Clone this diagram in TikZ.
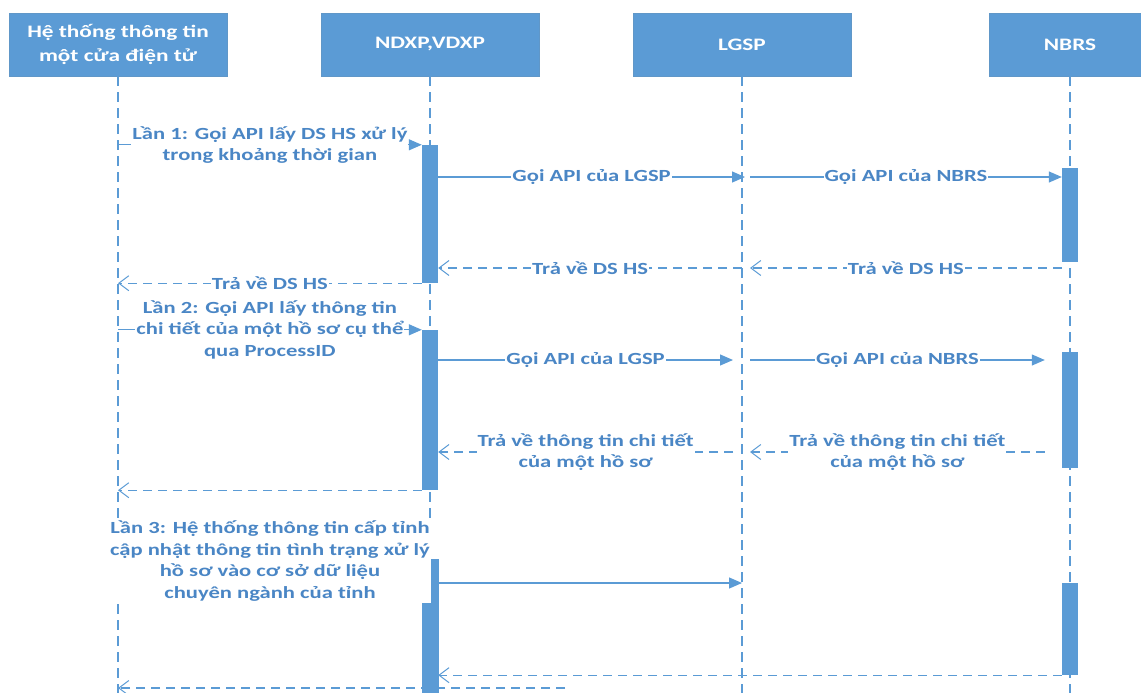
\documentclass[tikz,border=0pt]{standalone}
\usepackage{fontspec}
\setmainfont{Carlito}[FakeStretch=1.33]
\usepackage{tikz}
\usetikzlibrary{positioning, arrows.meta, calc}
\definecolor{boxblue}{HTML}{5B9BD5}
\definecolor{txtblue}{HTML}{4A86C5}

\begin{document}
\begin{tikzpicture}[
    x=1pt, y=-1pt,
    font=\fontsize{17}{21.5}\selectfont\bfseries,
    head/.style={rectangle, fill=boxblue, draw=boxblue!85!gray, text=white, minimum width=218pt, minimum height=63pt, align=center, inner sep=0pt, font=\fontsize{17.5}{24}\selectfont\bfseries},
    life/.style={color=boxblue, line width=1.3pt, dash pattern=on 10pt off 6pt},
    act/.style={rectangle, fill=boxblue, minimum width=16pt, inner sep=0pt},
    call/.style={color=boxblue, line width=1.2pt, -{Triangle[length=13pt, width=11pt]}},
    back/.style={color=boxblue, line width=1.2pt, dash pattern=on 9pt off 6pt, -{Straight Barb[length=10pt, width=15pt, line width=1pt]}},
    lbl/.style={fill=white, text=txtblue, align=center, inner sep=1pt}
]
    \useasboundingbox (0,0) rectangle (1141,693);
    \clip (0,0) rectangle (1141,693);

    % rows of the messages
    \coordinate (bot) at (0,700);
    \coordinate (r2) at (0,177);
    \coordinate (r3) at (0,268);
    \coordinate (r6) at (0,360);
    \coordinate (r7) at (0,452);
    \coordinate (r9) at (0,583);
    \coordinate (r11) at (0,688);
    \coordinate (tail) at (565,688);

    % heads and lifelines
    \node[head] (h1) at (118,44.5) {Hệ thống thông tin\\một cửa điện tử};
    \node[head] (h2) at (430,44.5) {NDXP,VDXP};
    \node[head] (h3) at (742,44.5) {LGSP};
    \node[head, minimum width=162pt] (h4) at (1070,44.5) {NBRS};
    \foreach \h in {h1,h2,h3,h4}
        \draw[life] (\h.south) -- (\h.south |- bot);

    % activations
    \node[act, minimum height=138pt] (a1) at (430,214) {};
    \node[act, minimum height=160pt] (a2) at (430,410) {};
    \node[act, minimum width=7pt, minimum height=141pt] (a3n) at (435,629.5) {};
    \node[act, minimum height=97pt] (a3) at (430,651.5) {};
    \node[act, minimum height=94pt] (n1) at (1070,215) {};
    \node[act, minimum height=116pt] (n2) at (1070,410) {};
    \node[act, minimum height=92pt] (n3) at (1070,629) {};

    % round 1
    \draw[call] (h1 |- a1.north) -- node[lbl] {Lần 1: Gọi API lấy DS HS xử lý\\trong khoảng thời gian} (a1.north west);
    \draw[call] (a1.east |- r2) -- node[lbl] {Gọi API của LGSP} ([xshift=3pt]h3 |- r2);
    \draw[call] ([xshift=8pt]h3 |- r2) -- node[lbl] {Gọi API của NBRS} (n1.west |- r2);
    \draw[back] (n1.west |- r3) -- node[lbl] {Trả về DS HS} ([xshift=8pt]h3 |- r3);
    \draw[back] (h3 |- r3) -- node[lbl] {Trả về DS HS} (a1.east |- r3);
    \draw[back] (a1.south west) -- node[lbl] {Trả về DS HS} (h1 |- a1.south);

    % round 2
    \draw[call] (h1 |- a2.north) -- node[lbl] {Lần 2: Gọi API lấy thông tin\\chi tiết của một hồ sơ cụ thể\\qua ProcessID} (a2.north west);
    \draw[call] (a2.east |- r6) -- node[lbl] {Gọi API của LGSP} ([xshift=-9pt]h3 |- r6);
    \draw[call] ([xshift=8pt]h3 |- r6) -- node[lbl] {Gọi API của NBRS} ([xshift=-17pt]n2.west |- r6);
    \draw[back] ([xshift=-17pt]n2.west |- r7) -- node[lbl] {Trả về thông tin chi tiết\\của một hồ sơ} ([xshift=8pt]h3 |- r7);
    \draw[back] ([xshift=-9pt]h3 |- r7) -- node[lbl] {Trả về thông tin chi tiết\\của một hồ sơ} (a2.east |- r7);
    \draw[back] (a2.south west) -- (h1 |- a2.south);

    % round 3
    \node[lbl, inner sep=3pt] (note3) at (270,561) {Lần 3: Hệ thống thông tin cấp tỉnh\\cập nhật thông tin tình trạng xử lý\\hồ sơ vào cơ sở dữ liệu\\chuyên ngành của tỉnh};
    \draw[call] (a3n.east |- r9) -- (h3 |- r9);
    \draw[back] (n3.south west) -- (a3.east |- n3.south);
    \draw[back] (tail) -- (h1 |- r11);

    % bars on top of the lines
    \foreach \a in {a1,a2,a3n,a3,n1,n2,n3}
        \fill[boxblue] (\a.north west) rectangle (\a.south east);
\end{tikzpicture}
\end{document}
